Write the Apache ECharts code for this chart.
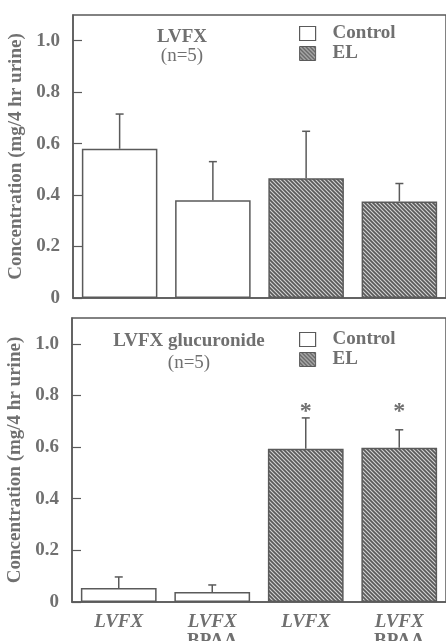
<!DOCTYPE html>
<html>
<head>
<meta charset="utf-8">
<script src="https://cdn.jsdelivr.net/npm/echarts@6/dist/echarts.min.js"></script>
<style>
  html, body { margin: 0; padding: 0; background: #fff; }
  #chart { width: 446px; height: 641px; }
</style>
</head>
<body>
<div id="chart"></div>
<script>
// categories (x axis, bottom panel only)
var categories = ['LVFX', 'LVFX\nBPAA', 'LVFX', 'LVFX\nBPAA'];
var yTicks = [0, 0.2, 0.4, 0.6, 0.8, 1.0];

// top panel: LVFX (n=5)
var lvfxControl = [0.58, 0.38, '-', '-'];
var lvfxEL = ['-', '-', 0.465, 0.375];
var lvfxErrTop = [0.715, 0.53, 0.648, 0.445];

// bottom panel: LVFX glucuronide (n=5)
var glucControl = [0.054, 0.039, '-', '-'];
var glucEL = ['-', '-', 0.594, 0.597];
var glucErrTop = [0.097, 0.066, 0.713, 0.667];
var glucStars = ['', '', '*', '*'];
var glucStarLevel = 0.738;

var grey = '#707070';
var dark = '#5a5a5a';
var serif = '"Liberation Serif", "DejaVu Serif", serif';
var fs = 19;

// hatch tile for EL bars
function hatch() {
  var c = document.createElement('canvas');
  c.width = 4; c.height = 4;
  var g = c.getContext('2d');
  g.fillStyle = '#5a5a5a';
  g.fillRect(0, 0, 4, 4);
  g.strokeStyle = '#d4d4d4';
  g.lineWidth = 1.1;
  g.beginPath();
  g.moveTo(-1, -1); g.lineTo(5, 5);
  g.moveTo(-1, 3); g.lineTo(1, 5);
  g.moveTo(3, -1); g.lineTo(5, 1);
  g.stroke();
  return { image: c, repeat: 'repeat' };
}
var elFill = hatch();

function pairs(vals, tops) {
  var out = [];
  for (var i = 0; i < tops.length; i++) {
    var v = vals[0][i] !== '-' ? vals[0][i] : vals[1][i];
    out.push([i, v, tops[i]]);
  }
  return out;
}

function errorBars(params, api) {
  var base = api.coord([api.value(0), api.value(1)]);
  var top = api.coord([api.value(0), api.value(2)]);
  var st = { stroke: dark, lineWidth: 1.5 };
  return {
    type: 'group',
    children: [
      { type: 'line', shape: { x1: base[0], y1: base[1], x2: top[0], y2: top[1] }, style: st },
      { type: 'line', shape: { x1: top[0] - 4, y1: top[1], x2: top[0] + 4, y2: top[1] }, style: st }
    ]
  };
}

function yAxis(gridIndex) {
  return {
    type: 'value', gridIndex: gridIndex, min: 0, max: 1.1, interval: 0.2,
    name: 'Concentration (mg/4 hr urine)',
    nameLocation: 'middle', nameRotate: 90, nameGap: 46,
    nameTextStyle: { color: grey, fontFamily: serif, fontWeight: 'bold', fontSize: fs },
    axisLine: { show: true, lineStyle: { color: dark, width: 1.5 } },
    axisTick: { show: true, inside: true, length: 9, lineStyle: { color: dark, width: 1.2 } },
    axisLabel: {
      color: grey, fontFamily: serif, fontWeight: 'bold', fontSize: fs, margin: 13,
      showMaxLabel: false,
      formatter: function (v) {
        var hit = yTicks.filter(function (t) { return Math.abs(t - v) < 1e-6; });
        if (!hit.length) return '';
        return v === 0 ? '0' : v.toFixed(1);
      }
    },
    splitLine: { show: false }
  };
}

function xAxis(gridIndex, showLabels) {
  return {
    type: 'category', gridIndex: gridIndex, data: categories,
    axisLine: { show: true, lineStyle: { color: dark, width: 1.5 } },
    axisTick: { show: false },
    axisLabel: {
      show: showLabels, margin: 11, interval: 0,
      formatter: function (v) {
        var parts = v.split('\n');
        return '{a|' + parts[0] + '}' + (parts[1] ? '\n{b|' + parts[1] + '}' : '');
      },
      rich: {
        a: { color: grey, fontFamily: serif, fontWeight: 'bold', fontStyle: 'italic', fontSize: fs, lineHeight: 19 },
        b: { color: grey, fontFamily: serif, fontWeight: 'bold', fontSize: fs, lineHeight: 19 }
      }
    }
  };
}

function legend(top) {
  return {
    data: [
      { name: 'Control', itemStyle: { color: '#fff', borderColor: dark, borderWidth: 1.2 } },
      { name: 'EL', itemStyle: { color: elFill, borderColor: dark, borderWidth: 1 } }
    ],
    orient: 'vertical', left: 294, top: top, itemWidth: 16, itemHeight: 14, itemGap: 1,
    selectedMode: false, icon: 'rect',
    textStyle: { color: grey, fontFamily: serif, fontWeight: 'bold', fontSize: fs, padding: [0, 0, 0, 12] }
  };
}

var barStyle = { borderColor: dark, borderWidth: 1.5 };

var chart = echarts.init(document.getElementById('chart'), null, { renderer: 'canvas' });
chart.setOption({
  backgroundColor: '#fff',
  animation: false,
  title: [
    {
      text: 'LVFX', subtext: '(n=5)', left: 177, top: 23, textAlign: 'center', itemGap: 0,
      textStyle: { color: grey, fontFamily: serif, fontWeight: 'bold', fontSize: fs },
      subtextStyle: { color: grey, fontFamily: serif, fontSize: fs }
    },
    {
      text: 'LVFX glucuronide', subtext: '(n=5)', left: 184, top: 327, textAlign: 'center', itemGap: 3,
      textStyle: { color: grey, fontFamily: serif, fontWeight: 'bold', fontSize: fs },
      subtextStyle: { color: grey, fontFamily: serif, fontSize: fs }
    }
  ],
  legend: [legend(19), legend(325)],
  grid: [
    { left: 73, right: 0, top: 15, bottom: 343, show: true, borderColor: dark, borderWidth: 1.5,
      outerBoundsMode: 'none' },
    { left: 72, right: 0, top: 318, bottom: 39, show: true, borderColor: dark, borderWidth: 1.5,
      outerBoundsMode: 'none' }
  ],
  xAxis: [xAxis(0, false), xAxis(1, true)],
  yAxis: [yAxis(0), yAxis(1)],
  series: [
    { name: 'Control', type: 'bar', xAxisIndex: 0, yAxisIndex: 0, data: lvfxControl,
      barWidth: '81%', barGap: '-100%', itemStyle: Object.assign({ color: '#fff' }, barStyle) },
    { name: 'EL', type: 'bar', xAxisIndex: 0, yAxisIndex: 0, data: lvfxEL,
      barWidth: '81%', barGap: '-100%', itemStyle: Object.assign({ color: elFill }, barStyle) },
    { type: 'custom', xAxisIndex: 0, yAxisIndex: 0, renderItem: errorBars,
      data: pairs([lvfxControl, lvfxEL], lvfxErrTop), z: 3 },

    { name: 'Control', type: 'bar', xAxisIndex: 1, yAxisIndex: 1, data: glucControl,
      barWidth: '81%', barGap: '-100%', itemStyle: Object.assign({ color: '#fff' }, barStyle) },
    { name: 'EL', type: 'bar', xAxisIndex: 1, yAxisIndex: 1, data: glucEL,
      barWidth: '81%', barGap: '-100%', itemStyle: Object.assign({ color: elFill }, barStyle) },
    { type: 'custom', xAxisIndex: 1, yAxisIndex: 1, renderItem: errorBars,
      data: pairs([glucControl, glucEL], glucErrTop), z: 3 },
    { type: 'custom', xAxisIndex: 1, yAxisIndex: 1, z: 4,
      data: glucStars.map(function (s, i) { return [i, glucStarLevel, s]; }),
      renderItem: function (params, api) {
        var p = api.coord([api.value(0), api.value(1)]);
        return {
          type: 'text', x: p[0], y: p[1],
          style: { text: glucStars[params.dataIndex], fill: grey, font: 'bold 24px ' + serif,
                   align: 'center', verticalAlign: 'middle' }
        };
      } }
  ]
});
</script>
</body>
</html>
